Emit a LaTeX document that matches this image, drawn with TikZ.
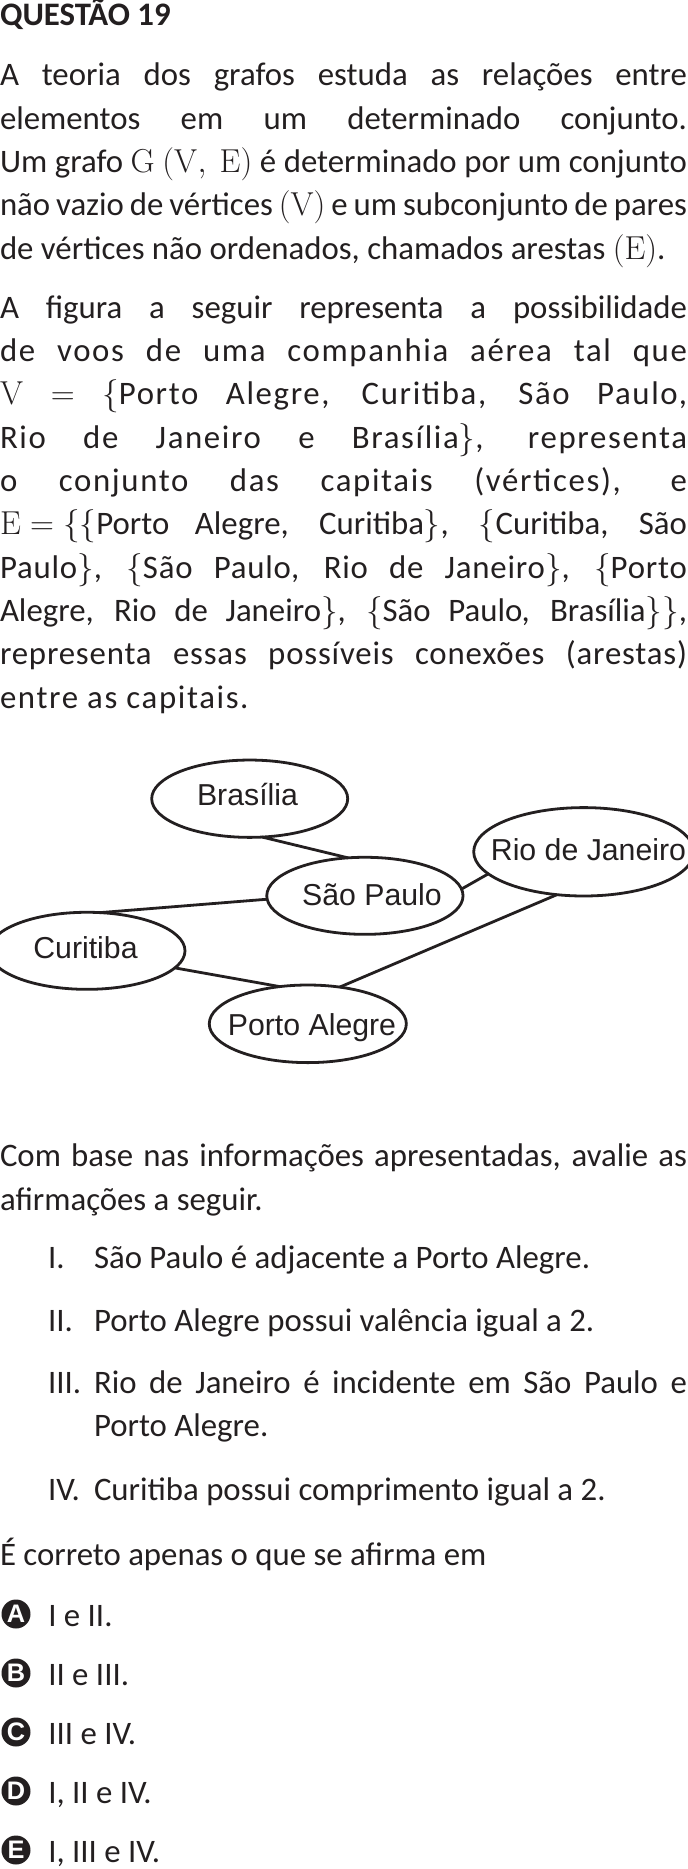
\documentclass[tikz,border=0pt]{standalone}
\usepackage[no-math]{fontspec}
\setmainfont{Carlito}
\newfontfamily\lsfont[LetterSpace=5]{Carlito}
\newfontfamily\lsfontb[LetterSpace=2.5]{Carlito}
\newfontfamily\gfont{Liberation Sans}
\usetikzlibrary{shapes.geometric}
\definecolor{ink}{RGB}{35,31,32}
\newlength\W \setlength\W{515.25pt}
\newlength\Wi \setlength\Wi{444.75pt}
\newcommand\bodyfont{\fontsize{24.6}{32}\selectfont}
\thickmuskip=5mu
\medmuskip=4mu
\begin{document}
\begin{tikzpicture}[x=0.75pt,y=-0.75pt,
 txt/.style={anchor=base west,inner sep=0,outer sep=0,font=\bodyfont,text=ink},
 lsa/.style={txt,font=\lsfont\bodyfont},
 lsb/.style={txt,font=\lsfontb\bodyfont},
 city/.style={ellipse,draw=ink,line width=2.1pt,inner sep=0,outer sep=0},
 clab/.style={inner sep=0,anchor=base,font=\gfont\fontsize{22.7}{26}\selectfont,text=ink},
 edge/.style={draw=ink,line width=2.1pt},
 opt/.style={circle,fill=ink,inner sep=0,minimum size=21.75pt,text=white,font=\gfont\bfseries\fontsize{19}{19}\selectfont}]
\useasboundingbox (0,0) rectangle (687,1869);
\fill[white] (0,0) rectangle (687,1869);

\node[txt,font=\bodyfont\bfseries] (head) at (0,26) {QUESTÃO 19};

% paragraph 1
\node[txt] (p1a) at (0,86) {\hbox to \W{A teoria dos grafos estuda as relações entre}};
\node[txt] (p1b) at (0,129.3) {\hbox to \W{elementos em um determinado conjunto.}};
\node[txt] (p1c) at (0,172.6) {\hbox to \W{Um grafo $\mathrm{G}$ $(\mathrm{V},\ \mathrm{E})$ é determinado por um conjunto}};
\node[txt] (p1d) at (0,215.9) {\hbox to \W{não vazio de vértices $(\mathrm{V})$ e um subconjunto de pares}};
\node[txt] (p1e) at (0,259.2) {de vértices não ordenados, chamados arestas $(\mathrm{E})$.};

% paragraph 2
\node[txt] (p2a) at (0,318.3) {\hbox to \W{A figura a seguir representa a possibilidade}};
\node[lsa] (p2b) at (0,361.6) {\hbox to \W{de voos de uma companhia aérea tal que}};
\node[lsa] (p2c) at (0,404.9) {\hbox to \W{$\mathrm{V}$ $=$ $\{$Porto Alegre, Curitiba, São Paulo,}};
\node[lsa] (p2d) at (0,448.2) {\hbox to \W{Rio de Janeiro e Brasília$\}$, representa}};
\node[lsa] (p2e) at (0,491.5) {\hbox to \W{o conjunto das capitais (vértices), e}};
\node[txt] (p2f) at (0,534.8) {\hbox to \W{$\mathrm{E}=\{\{$Porto Alegre, Curitiba$\}$, $\{$Curitiba, São}};
\node[lsb] (p2g) at (0,578.1) {\hbox to \W{Paulo$\}$, $\{$São Paulo, Rio de Janeiro$\}$, $\{$Porto}};
\node[txt] (p2h) at (0,621.4) {\hbox to \W{Alegre, Rio de Janeiro$\}$, $\{$São Paulo, Brasília$\}\}$,}};
\node[lsb] (p2i) at (0,664.7) {\hbox to \W{representa essas possíveis conexões (arestas)}};
\node[lsa] (p2j) at (0,708) {entre as capitais.};

% graph
\node[city,minimum width=147pt,minimum height=58pt] (bras) at (249.7,798.7) {};
\node[city,minimum width=147.2pt,minimum height=57.8pt] (sp) at (364.9,895.8) {};
\node[city,minimum width=165pt,minimum height=66.3pt] (rio) at (583.7,851.8) {};
\node[city,minimum width=147pt,minimum height=57.8pt] (cur) at (87,950.8) {};
\node[city,minimum width=147.8pt,minimum height=58.2pt] (pa) at (307.8,1023.8) {};

\node[clab] (brasl) at (247.5,805.7) {Brasília};
\node[clab] (spl) at (372,905) {São Paulo};
\node[clab] (riol) at (588.5,860.7) {Rio de Janeiro};
\node[clab] (curl) at (85.5,958.3) {Curitiba};
\node[clab] (pal) at (312,1035) {Porto Alegre};

\draw[edge] (bras.-72.7) -- (sp.114.1);
\draw[edge] (cur.71.6) -- (sp.182);
\draw[edge] (sp.4.4) -- (rio.193.7);
\draw[edge] (rio.238.3) -- (pa.49.3);
\draw[edge] (cur.-11) -- (pa.127);

% after graph
\node[txt] (q1) at (0,1166.7) {\hbox to \W{Com base nas informações apresentadas, avalie as}};
\node[txt] (q2) at (0,1210) {afirmações a seguir.};

\node[txt] (n1) at (48,1268.3) {I.};
\node[txt] (i1) at (94,1268.3) {São Paulo é adjacente a Porto Alegre.};
\node[txt] (n2) at (48,1331.7) {II.};
\node[txt] (i2) at (94,1331.7) {Porto Alegre possui valência igual a 2.};
\node[txt] (n3) at (48,1393.3) {III.};
\node[txt] (i3) at (94,1393.3) {\hbox to \Wi{Rio de Janeiro é incidente em São Paulo e}};
\node[txt] (i3b) at (94,1436) {Porto Alegre.};
\node[txt] (n4) at (48,1500) {IV.};
\node[txt] (i4) at (94,1500) {Curitiba possui comprimento igual a 2.};

\node[txt] (q3) at (0,1565) {É correto apenas o que se afirma em};

\node[opt] (oa) at (16,1614) {A};
\node[txt] (ta) at (48.3,1626.5) {I e II.};
\node[opt] (ob) at (16,1673) {B};
\node[txt] (tb) at (48.3,1685.5) {II e III.};
\node[opt] (oc) at (16,1732) {C};
\node[txt] (tc) at (48.3,1744.5) {III e IV.};
\node[opt] (od) at (16,1791) {D};
\node[txt] (td) at (48.3,1803.5) {I, II e IV.};
\node[opt] (oe) at (16,1850) {E};
\node[txt] (te) at (48.3,1862.5) {I, III e IV.};
\end{tikzpicture}
\end{document}
